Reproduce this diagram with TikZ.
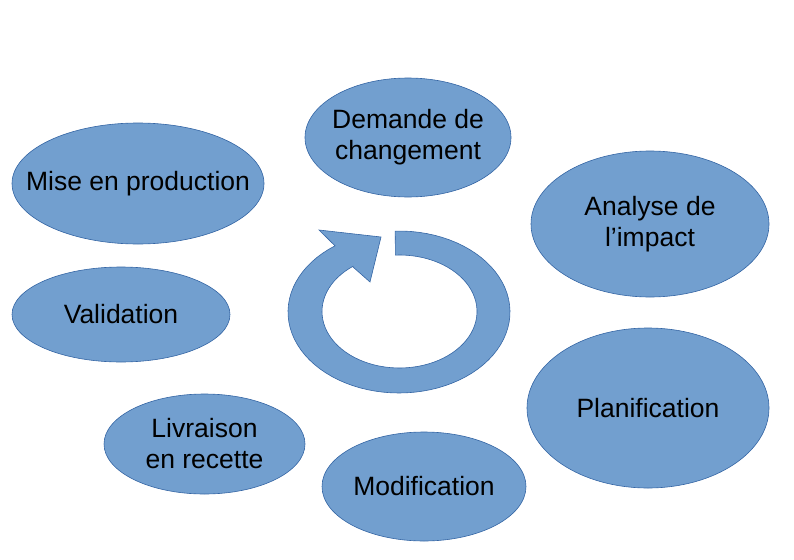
\documentclass[tikz,border=0pt]{standalone}
\usepackage{fontspec}
\setmainfont{Liberation Sans}
\usepackage{tikz}
\usetikzlibrary{shapes.geometric}
\definecolor{bleu}{HTML}{729FCF}
\definecolor{bord}{HTML}{3465A4}
\tikzset{etape/.style={ellipse, draw=bord, line width=0.6pt, fill=bleu, inner sep=0pt, align=center, font=\fontsize{26.5}{31}\selectfont}}
\begin{document}
\begin{tikzpicture}[x=1pt,y=-1pt]
\useasboundingbox (0,0) rectangle (794,559);
\node [etape, minimum width=206, minimum height=119, inner xsep=-4pt] (demande) at (408,137.5) {Demande de\\changement};
\node [etape, minimum width=252, minimum height=121, inner xsep=-23pt] (mise) at (138,183.5) {Mise en production};
\node [etape, minimum width=238, minimum height=146] (analyse) at (650,224) {Analyse de\\l’impact};
\node [etape, minimum width=218, minimum height=95] (valid) at (121,314.5) {Validation};
\node [etape, minimum width=242, minimum height=160] (planif) at (648,408) {Planification};
\node [etape, minimum width=201, minimum height=100] (livr) at (204.5,444) {Livraison\\en recette};
\node [etape, minimum width=204, minimum height=109] (modif) at (424,486.5) {Modification};
% fleche circulaire
\draw [draw=bord, line width=0.6pt, fill=bleu]
  plot [domain=268:594.8, samples=80] ({399+111*cos(\x)},{312+81*sin(\x)})
  -- (319,230) -- (381,237) -- (370,282) -- (353,267)
  -- plot [domain=593.1:267, samples=80] ({399.5+77.5*cos(\x)},{311.5+56.5*sin(\x)})
  -- cycle;
\end{tikzpicture}
\end{document}
